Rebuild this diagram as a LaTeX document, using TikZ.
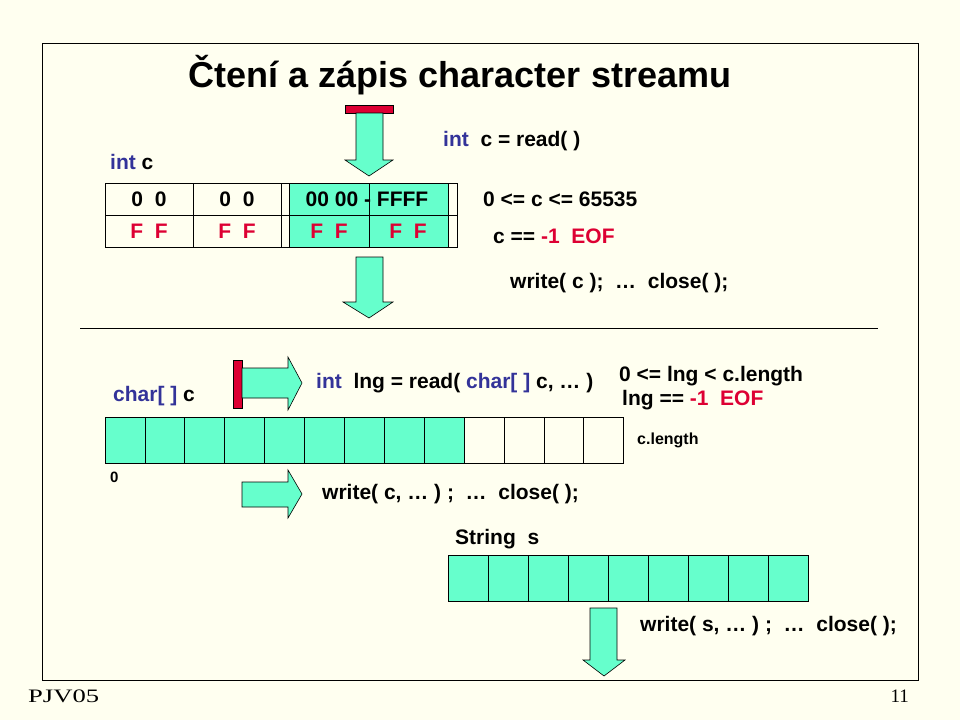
\documentclass[tikz,border=0pt]{standalone}
\usepackage{fontspec}
\setmainfont{Liberation Sans}
\newfontfamily\tms{Liberation Serif}
\definecolor{bg}{HTML}{FFFFF0}
\definecolor{aq}{HTML}{66FFCC}
\definecolor{bl}{HTML}{333399}
\definecolor{rd}{HTML}{DD0033}
\begin{document}
\begin{tikzpicture}[x=1pt,y=-1pt,
  txt/.style={anchor=west,inner sep=0pt,font=\fontsize{21}{23}\selectfont\bfseries},
  tab/.style={font=\fontsize{21}{23}\selectfont\bfseries},
  cell/.style={draw=black,line width=0.8pt},
  arr/.style={draw=black,fill=aq,line width=0.6pt,line join=miter}]
\fill[bg] (0,0) rectangle (960,720);
\useasboundingbox (0,0) rectangle (960,720);
\draw[line width=1pt] (42,43) rectangle (918,680);
\node (title) at (460,75) {\fontsize{36}{40}\selectfont\bfseries Čtení a zápis character streamu};
% top table
\fill[aq] (289,183) rectangle (448,247);
\draw[cell] (105,183) rectangle (457,247);
\draw[cell] (105,215) -- (457,215);
\foreach \x in {193,281,289,369,448} \draw[cell] (\x,183) -- (\x,247);
\node[txt] (ic) at (110,162) {\color{bl}int \color{black}c};
\foreach \x/\t in {149/0\ \ 0,237/0\ \ 0} \node[tab] at (\x,199) {\t};
\node[tab] (ff) at (367,199) {00 00 - FFFF};
\foreach \x in {149,237,329,408} \node[tab,text=rd] at (\x,231) {F\ \ F};
% red bar + arrows
\fill[rd] (345,105) rectangle (393,113);
\draw[black,line width=0.5pt] (345,105) rectangle (393,113);
\draw[arr] (356,113) -- (383,113) -- (383,160) -- (393,160) -- (369,176) -- (345,160) -- (356,160) -- cycle;
\draw[arr] (356,257) -- (383,257) -- (383,302) -- (393,302) -- (369,318) -- (343,302) -- (356,302) -- cycle;
\node[txt] (rd1) at (443,141) {\color{bl}int \ \color{black}c = read( )};
\node[txt] (r1) at (483,199) {0 <= c <= 65535};
\node[txt] (r2) at (493,236) {c == \textcolor{rd}{-1} \ \textcolor{rd}{EOF}};
\node[txt] (w1) at (510,283) {write( c ); \ … \ close( );};
\draw[line width=0.8pt] (80,328) -- (878,328);
% char array
\fill[aq] (105,417) rectangle (464,463);
\foreach \i in {0,...,12} \draw[cell] ({105+\i*39.9},417) rectangle ({105+(\i+1)*39.9},463);
\fill[rd] (233,360) rectangle (242,408);
\draw[line width=0.5pt] (233,360) rectangle (242,408);
\draw[arr] (242,368) -- (288,368) -- (288,357) -- (302,383) -- (288,410) -- (288,398) -- (242,398) -- cycle;
\draw[arr] (242,482) -- (288,482) -- (288,470) -- (302,494) -- (288,518) -- (288,507) -- (242,507) -- cycle;
\node[txt] (cc) at (113,396) {\color{bl}char[ ] \color{black}c};
\node[txt] (rd2) at (316,383) {\color{bl}int \ \color{black}lng = read( \color{bl}char[ ] \color{black}c, … )};
\node[txt] (l1) at (619,376) {0 <= lng < c.length};
\node[txt] (l2) at (622,400) {lng == \textcolor{rd}{-1} \ \textcolor{rd}{EOF}};
\node[txt,font=\fontsize{16}{18}\selectfont\bfseries] (cl) at (637,440) {c.length};
\node[txt,font=\fontsize{15}{17}\selectfont\bfseries] (z) at (110,477) {0};
\node[txt] (w2) at (322,494) {write( c, … ) ; \ … \ close( );};
% string
\node[txt] (ss) at (455,539) {String \ s};
\fill[aq] (448,555) rectangle (808,601);
\foreach \i in {0,...,8} \draw[cell] ({448+\i*40},555) rectangle ({448+(\i+1)*40},601);
\draw[arr] (590,608) -- (617,608) -- (617,660) -- (625,660) -- (604,676) -- (583,660) -- (590,660) -- cycle;
\node[txt] (w3) at (640,626) {write( s, … ) ; \ … \ close( );};
\node[anchor=west,inner sep=0pt,font=\tms\fontsize{19}{21}\selectfont] (pj) at (28,696) {\scalebox{1.4}[1]{PJV05}};
\node[anchor=east,inner sep=0pt,font=\tms\fontsize{19}{21}\selectfont] (pg) at (909,696) {11};
\end{tikzpicture}
\end{document}
